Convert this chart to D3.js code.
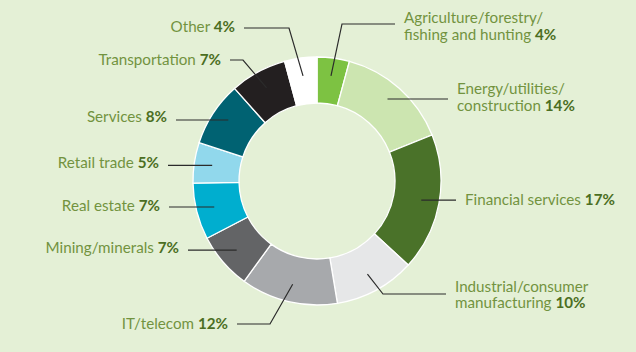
<!DOCTYPE html>
<html lang="en">

<head>
  <meta charset="UTF-8">
  <script src="https://cdn.jsdelivr.net/npm/d3@7/dist/d3.min.js"></script>
  <title>Donut</title>
  <style>
    body { margin: 0; background: #e4f0d6; }
    svg { display: block; }
    text { font-family: Lato, "Open Sans", sans-serif; font-size: 15.2px; fill: #72933f; }
    .pct { font-weight: bold; fill: #4b6e22; }
  </style>
</head>

<body>
  <svg width="636" height="352"></svg>
</body>
<script>
  // data (clockwise from 12 o'clock)
  const sectors = ["Agriculture/forestry/fishing and hunting", "Energy/utilities/construction",
    "Financial services", "Industrial/consumer manufacturing", "IT/telecom", "Mining/minerals",
    "Real estate", "Retail trade", "Services", "Transportation", "Other"];
  const shares = [4, 14, 17, 10, 12, 7, 7, 5, 8, 7, 4];
  const labelLines = [
    ["Agriculture/forestry/", "fishing and hunting"],
    ["Energy/utilities/", "construction"],
    ["Financial services"],
    ["Industrial/consumer", "manufacturing"],
    ["IT/telecom"],
    ["Mining/minerals"],
    ["Real estate"],
    ["Retail trade"],
    ["Services"],
    ["Transportation"],
    ["Other"]
  ];
  const colors = ["#7dc242", "#cce5b0", "#4a7229", "#e6e7e8", "#a7a9ac", "#636466",
    "#00aecf", "#91d8ec", "#006272", "#231f20", "#ffffff"];

  const svg = d3.select("svg");
  const cx = 317, cy = 181;
  const outerR = 124, innerR = 78, anchorR = 106;

  const chart = svg.append("g").attr("transform", "translate(" + cx + "," + cy + ")");

  const pie = d3.pie().sort(null).value(d => d);
  const arcs = pie(shares);
  const arc = d3.arc().innerRadius(innerR).outerRadius(outerR);
  const anchorArc = d3.arc().innerRadius(anchorR).outerRadius(anchorR);

  chart.selectAll(".slice")
    .data(arcs)
    .join("path")
    .attr("class", "slice")
    .attr("d", arc)
    .attr("fill", (d, i) => colors[i])
    .attr("stroke", "#ffffff")
    .attr("stroke-width", 1.3);

  /**
   * label layout: side, leader y (null = anchor y), elbow x (null = straight),
   * line end x, first text line offset from leader y
   */
  const layout = [
    { side: "right", ly: 24, ex: 342, end: 395, dt: -6 },
    { side: "right", ly: 99, ex: null, end: 448, dt: -10 },
    { side: "right", ly: null, ex: null, end: 456, dt: 0 },
    { side: "right", ly: 294, ex: 383, end: 446, dt: -7.5 },
    { side: "left", ly: 324, ex: 270, end: 237, dt: -0.5 },
    { side: "left", ly: null, ex: null, end: 188, dt: -2 },
    { side: "left", ly: null, ex: null, end: 169, dt: -1.5 },
    { side: "left", ly: null, ex: null, end: 168, dt: -2.5 },
    { side: "left", ly: 120, ex: null, end: 176, dt: -3 },
    { side: "left", ly: 60, ex: 243, end: 230, dt: -0.5 },
    { side: "left", ly: 28, ex: 289, end: 244, dt: -1 }
  ];

  const lineGen = d3.line();

  arcs.forEach((a, i) => {
    const c = anchorArc.centroid(a);
    const ax = cx + c[0], ay = cy + c[1];
    const L = layout[i];
    const ly = L.ly === null ? ay : L.ly;
    const pts = L.ex === null ? [[ax, ly], [L.end, ly]] : [[ax, ay], [L.ex, ly], [L.end, ly]];

    svg.append("path")
      .attr("d", lineGen(pts))
      .attr("fill", "none")
      .attr("stroke", "#2b2b2b")
      .attr("stroke-width", 1.2);

    const lines = labelLines[i];
    const lh = 16.5;
    const top = ly + L.dt;
    const tx = L.side === "right" ? L.end + 9 : L.end - 9;

    // one text element per line
    lines.forEach((s, k) => {
      const last = k === lines.length - 1;
      const t = svg.append("text")
        .attr("x", tx)
        .attr("y", top + k * lh + 5)
        .attr("text-anchor", L.side === "right" ? "start" : "end");
      t.append("tspan").text(last ? s + " " : s);
      if (last) {
        t.append("tspan").attr("class", "pct").text(shares[i] + "%");
      }
    });
  });
</script>

</html>
